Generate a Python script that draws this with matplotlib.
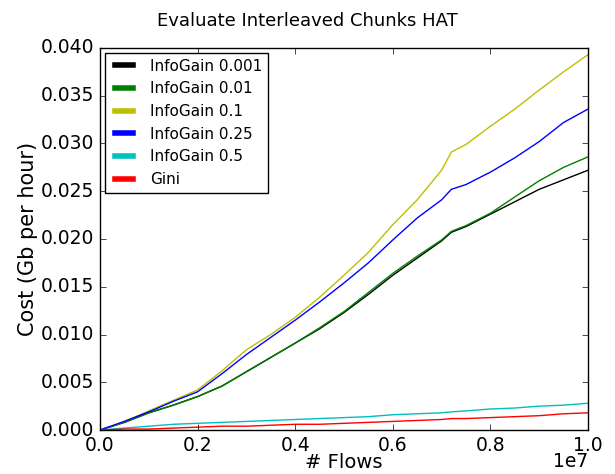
import numpy as np
import matplotlib
matplotlib.use("Agg")
import matplotlib.pyplot as plt
import matplotlib.transforms as mtransforms

# Flows in units of 1e7, cost in Gb per hour
flows = [0.0, 0.05, 0.1, 0.15, 0.2, 0.25, 0.3, 0.35, 0.4, 0.45, 0.5, 0.55,
         0.6, 0.65, 0.7, 0.72, 0.75, 0.8, 0.85, 0.9, 0.95, 1.0]

info_0001 = [0.0, 0.0008, 0.0018, 0.0026, 0.0035, 0.0046, 0.0061, 0.0076, 0.0091,
             0.0106, 0.0123, 0.0142, 0.0162, 0.0180, 0.0198, 0.0207, 0.0213, 0.0226,
             0.0239, 0.0252, 0.0262, 0.0272]
info_001 = [0.0, 0.0008, 0.0018, 0.0026, 0.0035, 0.0046, 0.0061, 0.0076, 0.0091,
            0.0107, 0.0124, 0.0144, 0.0164, 0.0182, 0.0199, 0.0208, 0.0214, 0.0227,
            0.0244, 0.0261, 0.0275, 0.0286]
info_01 = [0.0, 0.0009, 0.0020, 0.0031, 0.0042, 0.0062, 0.0084, 0.0100, 0.0118,
           0.0139, 0.0162, 0.0186, 0.0215, 0.0241, 0.0272, 0.0291, 0.0299, 0.0318,
           0.0336, 0.0356, 0.0375, 0.0393]
info_025 = [0.0, 0.0009, 0.0019, 0.0030, 0.0040, 0.0059, 0.0079, 0.0097, 0.0115,
            0.0134, 0.0154, 0.0175, 0.0199, 0.0222, 0.0241, 0.0252, 0.0257, 0.0270,
            0.0285, 0.0302, 0.0322, 0.0336]
info_05 = [0.0, 0.0002, 0.0004, 0.0006, 0.0007, 0.0008, 0.0009, 0.0010, 0.0011,
           0.0012, 0.0013, 0.0014, 0.0016, 0.0017, 0.0018, 0.0019, 0.0020, 0.0022,
           0.0023, 0.0025, 0.0026, 0.0028]
gini = [0.0, 0.0001, 0.0001, 0.0002, 0.0003, 0.0004, 0.0004, 0.0005, 0.0006,
        0.0006, 0.0007, 0.0008, 0.0009, 0.0010, 0.0011, 0.0012, 0.0012, 0.0013,
        0.0014, 0.0015, 0.0017, 0.0018]

labels = ["InfoGain 0.001", "InfoGain 0.01", "InfoGain 0.1",
          "InfoGain 0.25", "InfoGain 0.5", "Gini"]
colors = ["k", "g", "y", "b", "c", "r"]

plt.style.use("classic")
fig = plt.figure(figsize=(6.15, 4.74), dpi=100, facecolor="white")
ax = fig.add_axes([0.1626, 0.0928, 0.7935, 0.806])

x = np.array(flows) * 1e7
series = [info_0001, info_001, info_01, info_025, info_05, gini]
for ys, c, lab in zip(series, colors, labels):
    ax.plot(x, ys, color=c, label=lab, linewidth=1)

ax.set_xlim(0, 1e7)
ax.set_ylim(0, 0.04)
ax.set_yticks(np.arange(0, 0.0401, 0.005))
ax.tick_params(labelsize=13.5)

# nudge the 1e7 offset text up a little so it stays inside the figure
offset = ax.xaxis.get_offset_text()
offset.set_fontsize(13.5)
offset.set_transform(offset.get_transform() +
                     mtransforms.ScaledTranslation(0, 5 / 72, fig.dpi_scale_trans))

ax.set_xlabel("# Flows", fontsize=14, labelpad=-1)
ax.set_ylabel("Cost (Gb per hour)", fontsize=15, labelpad=2)
fig.suptitle("Evaluate Interleaved Chunks HAT", fontsize=13, y=0.975)

leg = ax.legend(loc="upper left", fontsize=11, handlelength=1.75,
                borderaxespad=0.3)
for line in leg.get_lines():
    line.set_linewidth(4)

fig.savefig("out.png", dpi=100, facecolor="white")
